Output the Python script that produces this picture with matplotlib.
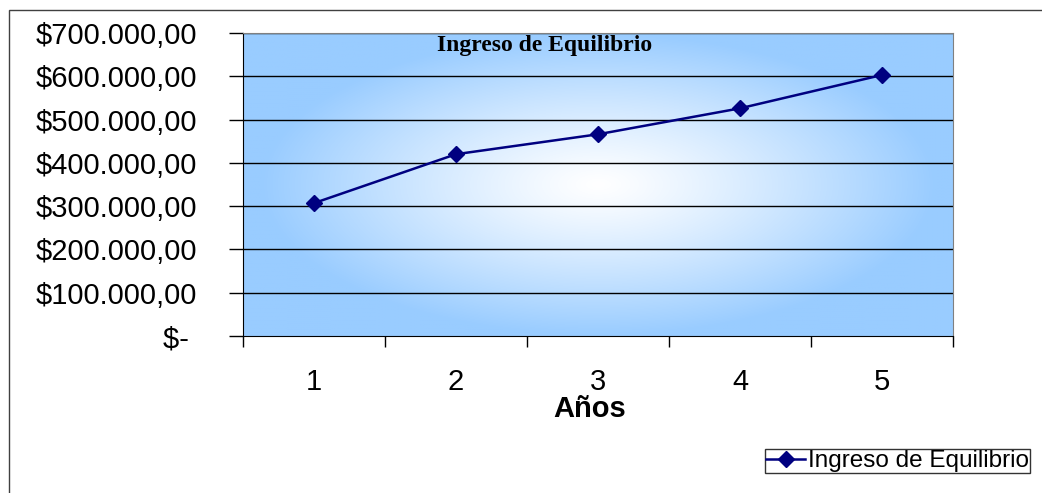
import numpy as np
import matplotlib
matplotlib.use("Agg")
import matplotlib.pyplot as plt
from matplotlib.patches import Rectangle
import matplotlib.transforms as mtransforms

years = [1, 2, 3, 4, 5]
ingreso = [307000, 420000, 466000, 526000, 603000]
y_ticks = [0, 100000, 200000, 300000, 400000, 500000, 600000, 700000]
y_labels = ["$- ", "$100.000,00", "$200.000,00", "$300.000,00", "$400.000,00",
            "$500.000,00", "$600.000,00", "$700.000,00"]
series_name = "Ingreso de Equilibrio"

W, H = 1042, 493
fig = plt.figure(figsize=(W / 100, H / 100), dpi=100)
fig.patch.set_facecolor("white")

# outer chart border (cut off at right and bottom)
fig.add_artist(Rectangle((9 / W, -0.1), 1.2, 1 - 10 / H + 0.1, transform=fig.transFigure,
                         fill=False, edgecolor="#404040", linewidth=1.0))

ax = fig.add_axes([243 / W, 157 / H, 710 / W, 303 / H])

# radial gradient background
nx, ny = 400, 200
xx, yy = np.meshgrid(np.linspace(-1, 1, nx), np.linspace(-1, 1, ny))
r = np.clip(np.sqrt((xx / 0.95) ** 2 + (yy / 1.0) ** 2), 0, 1)
t = r ** 1.2
blue = np.array([153, 204, 255]) / 255.0
white = np.array([1.0, 1.0, 1.0])
img = white[None, None, :] * (1 - t[..., None]) + blue[None, None, :] * t[..., None]
ax.imshow(img, extent=[0.5, 5.5, 0, 700000], aspect="auto", zorder=0, interpolation="bilinear")

ax.set_xlim(0.5, 5.5)
ax.set_ylim(0, 700000)

for v in y_ticks[1:]:
    ax.axhline(v, color="black", linewidth=1.0, zorder=1)

ax.plot(years, ingreso, color="#000080", marker="D", markersize=8, linewidth=1.8,
        label=series_name, zorder=3)

ax.set_yticks(y_ticks)
ax.set_yticklabels(y_labels, fontsize=21, family="Liberation Sans")
ax.tick_params(axis="y", direction="out", length=10, width=1, pad=23)

ax.set_xticks([0.5, 1.5, 2.5, 3.5, 4.5, 5.5])
ax.set_xticklabels([])
ax.tick_params(axis="x", direction="out", length=8, width=1)
trans = mtransforms.blended_transform_factory(ax.transData, fig.transFigure)
for x in years:
    ax.text(x, 1 - 382 / H, str(x), transform=trans, ha="center", va="center",
            fontsize=21, family="Liberation Sans")

for s in ["top", "right"]:
    ax.spines[s].set_color("#808080")
for s in ["left", "bottom"]:
    ax.spines[s].set_color("black")

fig.text(545 / W, 1 - 46 / H, series_name, ha="center", va="center",
         fontsize=17, fontweight="bold", family="Liberation Serif")

fig.text(590 / W, 1 - 409 / H, "Años", ha="center", va="center", fontsize=21,
         fontweight="bold", family="Liberation Sans")

leg = fig.legend(loc="upper left", bbox_to_anchor=(765 / W, 1 - 449 / H), frameon=True,
                 fancybox=False, prop={"family": "Liberation Sans", "size": 17.5},
                 handlelength=1.6, handletextpad=0.1, borderpad=0.05, borderaxespad=0)
leg.get_frame().set_edgecolor("black")
leg.get_frame().set_linewidth(1.0)

fig.savefig("out.png", dpi=100)
